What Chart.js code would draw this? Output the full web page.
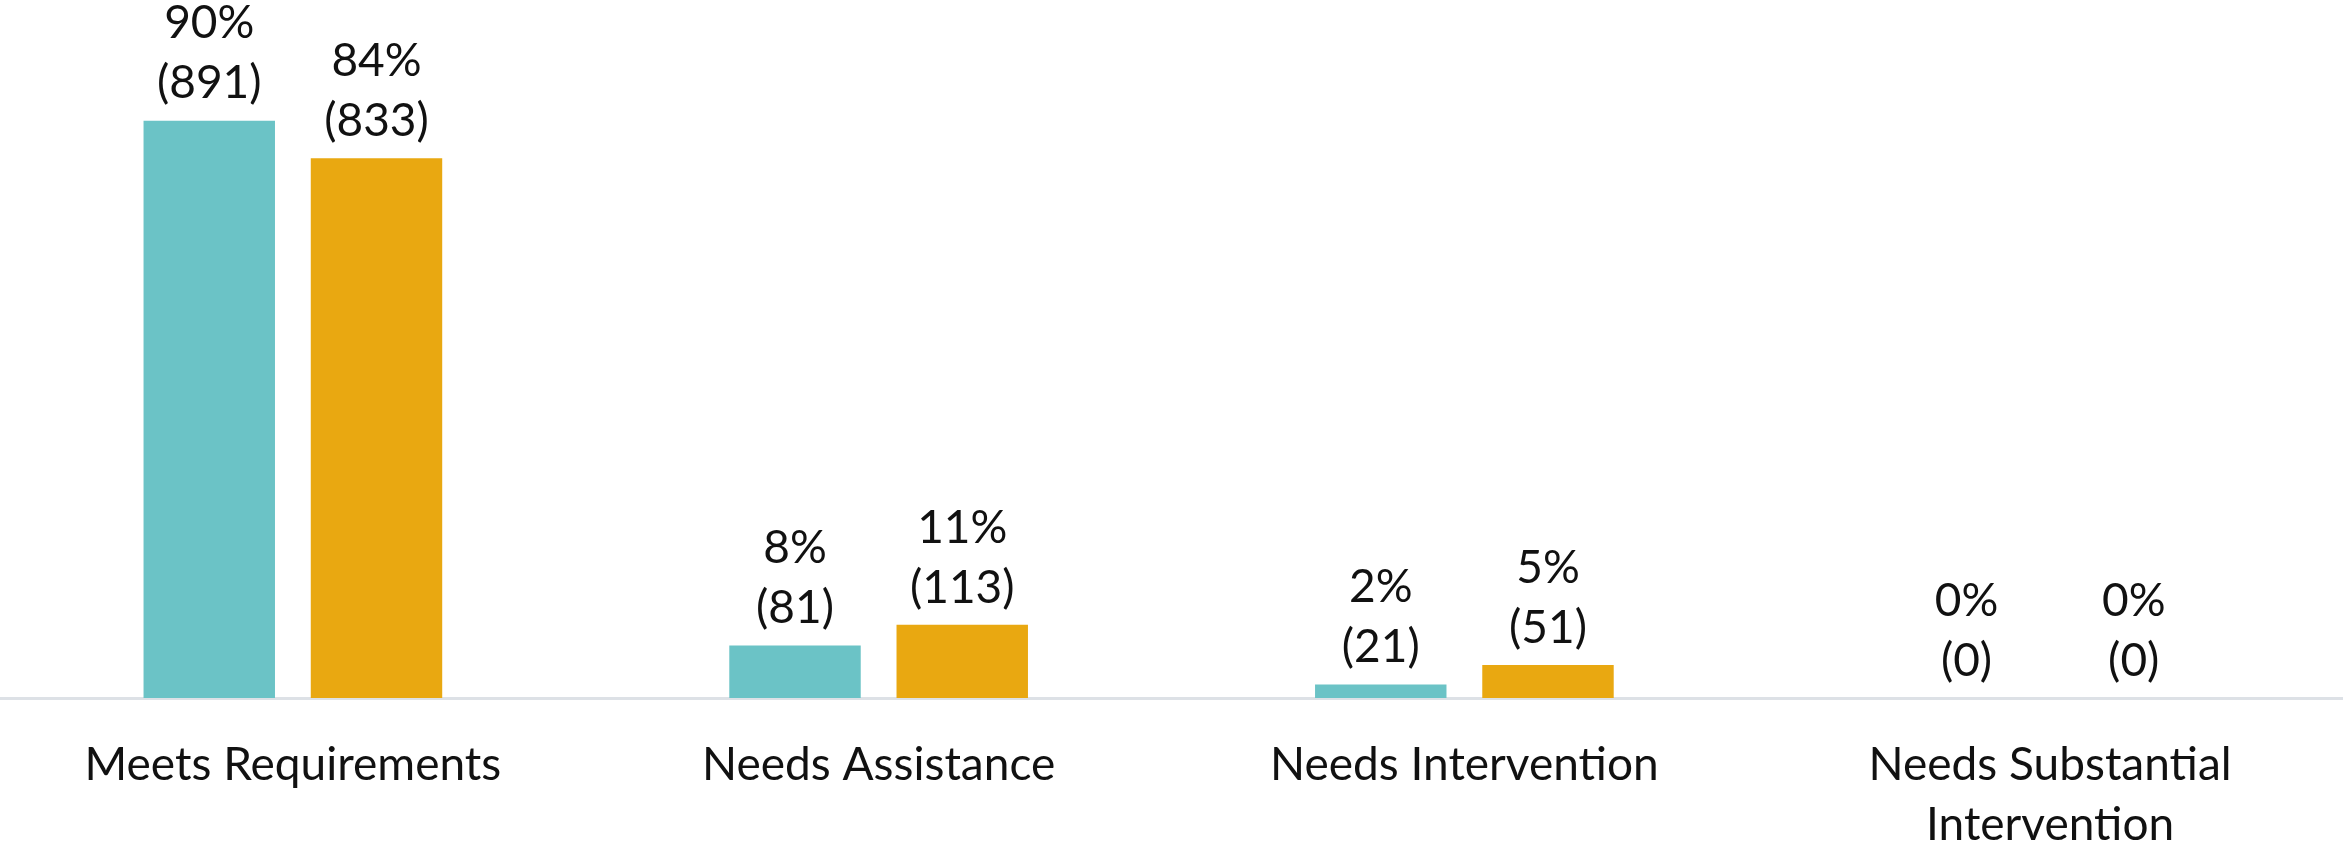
<!DOCTYPE html>
<html>
<head>
<meta charset="utf-8">
<script src="https://cdn.jsdelivr.net/npm/chart.js@4"></script>
<style>
  body { margin: 0; background: #fff; }
  #wrap { width: 2343px; height: 846px; position: relative; }
</style>
</head>
<body>
<div id="wrap"><canvas id="bars"></canvas></div>
<script>
// categories and values
const categories = [
  "Meets Requirements",
  "Needs Assistance",
  "Needs Intervention",
  ["Needs Substantial", "Intervention"]
];
const countsA = [891, 81, 21, 0];
const countsB = [833, 113, 51, 0];
const pctA = [90, 8, 2, 0];
const pctB = [84, 11, 5, 0];

const teal = "#6BC3C6";
const gold = "#E9A811";
const labelFont = "46px Lato";

// draws "NN%" and "(count)" above each bar
const barLabels = {
  id: "barLabels",
  afterDatasetsDraw(chart) {
    const ctx = chart.ctx;
    const pcts = [pctA, pctB];
    ctx.save();
    ctx.font = labelFont;
    ctx.fillStyle = "#111";
    ctx.textAlign = "center";
    ctx.textBaseline = "middle";
    chart.data.datasets.forEach((ds, d) => {
      const meta = chart.getDatasetMeta(d);
      meta.data.forEach((bar, i) => {
        ctx.fillText("(" + ds.data[i] + ")", bar.x, bar.y - 37);
        ctx.fillText(pcts[d][i] + "%", bar.x, bar.y - 97);
      });
    });
    ctx.restore();
  }
};

new Chart(document.getElementById("bars"), {
  type: "bar",
  data: {
    labels: categories,
    datasets: [
      { label: "Series A", data: countsA, backgroundColor: teal },
      { label: "Series B", data: countsB, backgroundColor: gold }
    ]
  },
  options: {
    responsive: true,
    maintainAspectRatio: false,
    devicePixelRatio: 1,
    animation: false,
    layout: { padding: { top: 50, left: 0, right: 0, bottom: 0 } },
    categoryPercentage: 0.571,
    barPercentage: 0.786,
    plugins: { legend: { display: false }, tooltip: { enabled: false } },
    scales: {
      y: { display: false, min: 0, max: 1000 },
      x: {
        grid: { display: false },
        border: { display: true, color: "#dde1e6", width: 3 },
        ticks: {
          color: "#111",
          font: { family: "Lato", size: 46, lineHeight: 1.3 },
          padding: 29,
          maxRotation: 0,
          autoSkip: false
        },
        afterFit(scale) { scale.height = 148; }
      }
    }
  },
  plugins: [barLabels]
});
</script>
</body>
</html>
